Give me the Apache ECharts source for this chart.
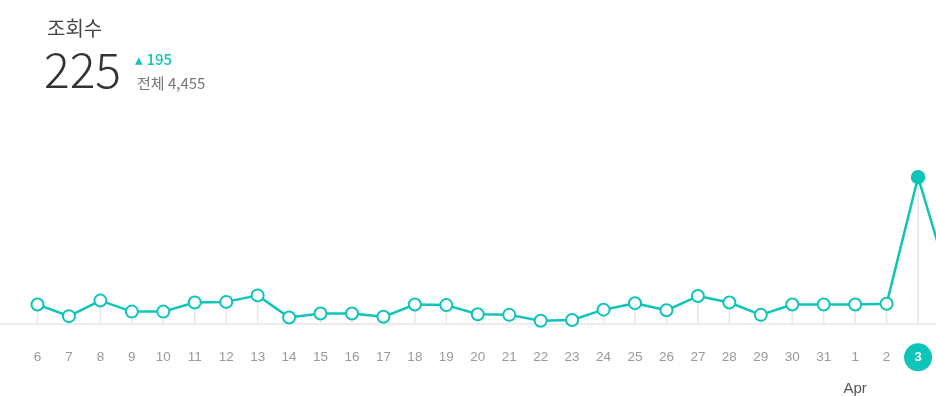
<!DOCTYPE html>
<html><head><meta charset="utf-8">
<script src="https://cdn.jsdelivr.net/npm/echarts@6/dist/echarts.min.js"></script>
<style>html,body{margin:0;padding:0;background:#fff}#c{width:936px;height:396px}</style>
</head><body><div id="c"></div>
<script>
const categories = ['6','7','8','9','10','11','12','13','14','15','16','17','18','19','20','21','22','23','24','25','26','27','28','29','30','31','1','2','3','4'];
const views = [29,11,35,18,18,32,33,43,9,15,15,10,29,28,14,13,4,5,21,31,20,42,32,13,29,29,29,30,225,63];
const selectedDay = '3';
const monthLabelAt = '1';
const monthLabel = 'Apr';
const titleText = '조회수';
const todayCount = '225';
const changeText = '195';
const totalText = '전체 4,455';

const teal = '#0fc4b8';
const selIdx = categories.indexOf(selectedDay);
const lineData = views.map((v, i) => i === selIdx
  ? {value: v, symbol: 'circle', itemStyle: {color: teal, borderColor: teal}}
  : v);

const chart = echarts.init(document.getElementById('c'), null, {renderer: 'canvas'});
chart.setOption({
  animation: false,
  grid: [
    {left: 37.5, width: 912, top: 161, bottom: 72.7, containLabel: false, outerBoundsMode: 'none'},
    {left: 0, right: 0, top: 161, bottom: 72.7, containLabel: false, outerBoundsMode: 'none'}
  ],
  xAxis: [
    {
      type: 'category', gridIndex: 0, data: categories, boundaryGap: false,
      axisLine: {show: false}, axisTick: {show: false}, splitLine: {show: false},
      axisLabel: {
        interval: 0, margin: 20, color: '#999', fontSize: 13.5, lineHeight: 28,
        fontFamily: 'Liberation Sans, Arial, sans-serif',
        formatter: function (v) {
          if (v === selectedDay) return '{sel|' + v + '}';
          if (v === monthLabelAt) return v + '\n{mon|' + monthLabel + '}';
          return v;
        },
        rich: {
          sel: {backgroundColor: teal, borderRadius: 14, width: 28, height: 28, lineHeight: 28,
                align: 'center', color: '#fff', fontWeight: 'bold', fontSize: 13,
                fontFamily: 'Liberation Sans, Arial, sans-serif'},
          mon: {color: '#555', fontSize: 15, lineHeight: 36, fontFamily: 'Liberation Sans, Arial, sans-serif'}
        }
      }
    },
    {
      type: 'value', gridIndex: 1, min: 0, max: 1,
      axisLine: {show: true, lineStyle: {color: '#e6e6e6', width: 1.5}},
      axisTick: {show: false}, axisLabel: {show: false}, splitLine: {show: false}
    }
  ],
  yAxis: [
    {type: 'value', gridIndex: 0, min: 0, max: 250, show: false, splitLine: {show: false}},
    {type: 'value', gridIndex: 1, min: 0, max: 1, show: false, splitLine: {show: false}}
  ],
  series: [
    {
      type: 'bar', xAxisIndex: 0, yAxisIndex: 0, data: views, barWidth: 1.5,
      itemStyle: {color: '#e8e8e8'}, z: 1, silent: true
    },
    {
      type: 'line', xAxisIndex: 0, yAxisIndex: 0, data: lineData,
      symbol: 'emptyCircle', symbolSize: 12, showAllSymbol: true,
      lineStyle: {color: teal, width: 2.5},
      itemStyle: {color: teal, borderColor: teal, borderWidth: 2.5},
      z: 3
    }
  ],
  graphic: [
    {type: 'text', left: 47, top: 18, style: {text: titleText, fill: '#444', font: '20px "Noto Sans CJK KR"'}},
    {type: 'text', left: 44, top: 46, style: {text: todayCount, fill: '#333', font: '300 48px "Noto Sans CJK KR"'}},
    {type: 'text', left: 135, top: 52, style: {text: '▴ ' + changeText, fill: teal, font: '500 15px "Noto Sans CJK KR"'}},
    {type: 'text', left: 137, top: 76, style: {text: totalText, fill: '#777', font: '15px "Noto Sans CJK KR"'}}
  ]
});
</script></body></html>
